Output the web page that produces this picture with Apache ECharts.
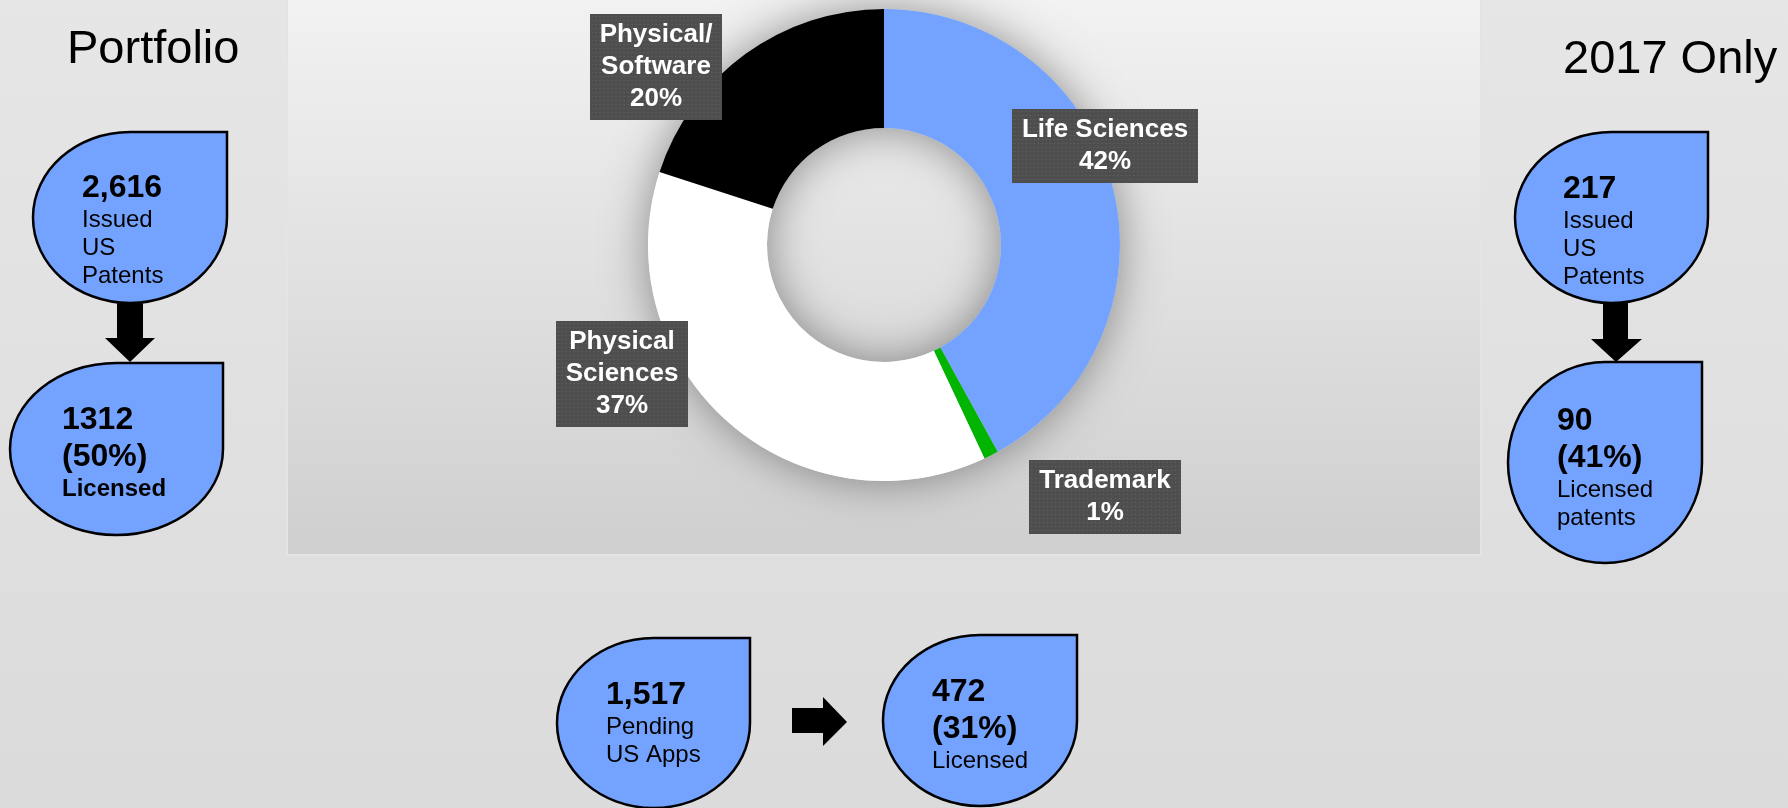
<!DOCTYPE html>
<html>
<head>
<meta charset="utf-8">
<title>Patent portfolio</title>
<script src="https://cdn.jsdelivr.net/npm/echarts@6/dist/echarts.min.js"></script>
<style>
  html, body { margin: 0; padding: 0; background: #dedede; }
  #chart { width: 1788px; height: 808px; }
</style>
</head>
<body>
<div id="chart"></div>
<script>
// donut: share of the portfolio by area (%)
const sectors = ['Life Sciences', 'Trademark', 'Physical Sciences', 'Physical/Software']
const sectorLabels = ['Life Sciences', 'Trademark', 'Physical\nSciences', 'Physical/\nSoftware']
const sectorShare = [42, 1, 37, 20]
const sectorColors = ['#73a3ff', '#00b400', '#ffffff', '#000000']

// side headings
const panelTitles = ['Portfolio', '2017 Only']

// teardrop callouts: left top, left bottom, right top, right bottom, bottom left, bottom right
const dropCounts = ['2,616', '1312\n(50%)', '217', '90\n(41%)', '1,517', '472\n(31%)']
const dropCaptions = ['Issued\nUS\nPatents', 'Licensed', 'Issued\nUS\nPatents', 'Licensed\npatents', 'Pending\nUS Apps', 'Licensed']
const captionBold = [false, true, false, false, false, false]

const FONT = '"Liberation Sans", Arial, sans-serif'

// layout (pixels)
const dropBoxes = [[33, 132, 194, 171], [10, 363, 213, 172], [1515, 132, 193, 171], [1508, 362, 194, 201], [557, 638, 193, 170], [883, 635, 194, 171]]
const dropText = [[82, 169.5], [62, 401.5], [1563, 170.5], [1557, 402.5], [606, 676.5], [932, 673.5]]
const titleAt = [[67, 50.5], [1563, 60.5]]
const labelAt = [[1105, 146], [1105, 497], [622, 374], [656, 67]]

// circle with its top-right quarter squared off
echarts.graphic.registerShape('teardrop', echarts.graphic.extendShape({
  shape: { x: 0, y: 0, width: 0, height: 0 },
  buildPath: function (ctx, s) {
    const k = 0.5523
    const rx = s.width / 2, ry = s.height / 2
    const cx = s.x + rx, cy = s.y + ry
    const r = s.x + s.width, b = s.y + s.height
    ctx.moveTo(cx, s.y)
    ctx.lineTo(r, s.y)
    ctx.lineTo(r, cy)
    ctx.bezierCurveTo(r, cy + k * ry, cx + k * rx, b, cx, b)
    ctx.bezierCurveTo(cx - k * rx, b, s.x, cy + k * ry, s.x, cy)
    ctx.bezierCurveTo(s.x, cy - k * ry, cx - k * rx, s.y, cx, s.y)
    ctx.closePath()
  }
}))

// dark dotted tile sized to a label box
function dottedBox(text) {
  const m = document.createElement('canvas').getContext('2d')
  m.font = 'bold 26px ' + FONT
  const lines = text.split('\n')
  const w = Math.ceil(Math.max(...lines.map(l => m.measureText(l).width))) + 20
  const h = lines.length * 32 + 10
  const c = document.createElement('canvas')
  c.width = w
  c.height = h
  const g = c.getContext('2d')
  g.fillStyle = '#4e4e4e'
  g.fillRect(0, 0, w, h)
  g.fillStyle = '#676767'
  for (let y = 2; y < h; y += 4) {
    for (let x = 2; x < w; x += 4) g.fillRect(x, y, 1, 1)
  }
  return c
}

function dropRich(i) {
  const n = dropCounts[i].split('\n').map(s => '{n|' + s + '}')
  const c = dropCaptions[i].split('\n').map(s => (captionBold[i] ? '{b|' : '{t|') + s + '}')
  return n.concat(c).join('\n')
}

const graphics = []

// chart panel
graphics.push({
  type: 'rect', z: 0, silent: true,
  shape: { x: 287, y: -2, width: 1194, height: 557 },
  style: {
    fill: new echarts.graphic.LinearGradient(0, 0, 0, 1, [
      { offset: 0, color: '#f2f2f2' },
      { offset: 1, color: '#cfcfcf' }
    ]),
    stroke: '#e4e4e4', lineWidth: 2
  }
})

panelTitles.forEach((t, i) => {
  graphics.push({
    type: 'text', z: 10, x: titleAt[i][0], y: titleAt[i][1],
    style: { text: t, fill: '#000', font: '47px ' + FONT, verticalAlign: 'middle' }
  })
})

dropBoxes.forEach((b, i) => {
  graphics.push({
    type: 'teardrop', z: 10, silent: true,
    shape: { x: b[0], y: b[1], width: b[2], height: b[3] },
    style: { fill: '#73a3ff', stroke: '#000', lineWidth: 2.5 }
  })
  graphics.push({
    type: 'text', z: 11, x: dropText[i][0], y: dropText[i][1],
    style: {
      text: dropRich(i), verticalAlign: 'top', fill: '#000',
      rich: {
        n: { fontFamily: FONT, fontSize: 32, fontWeight: 'bold', lineHeight: 37, fill: '#000' },
        t: { fontFamily: FONT, fontSize: 24, lineHeight: 28, fill: '#000' },
        b: { fontFamily: FONT, fontSize: 24, fontWeight: 'bold', lineHeight: 28, fill: '#000' }
      }
    }
  })
})

// arrows
const arrows = [
  [[117, 303], [143, 303], [143, 338], [155, 338], [130, 362], [105, 338], [117, 338]],
  [[1603, 303], [1628, 303], [1628, 339], [1642, 339], [1616, 362], [1591, 339], [1603, 339]],
  [[792, 708], [823, 708], [823, 697], [847, 722], [823, 746], [823, 733], [792, 733]]
]
arrows.forEach(pts => {
  graphics.push({ type: 'polygon', z: 10, silent: true, shape: { points: pts }, style: { fill: '#000' } })
})

const chart = echarts.init(document.getElementById('chart'))
chart.setOption({
  backgroundColor: new echarts.graphic.LinearGradient(0, 0, 0, 1, [
    { offset: 0, color: '#e6e6e6' },
    { offset: 1, color: '#dbdbdb' }
  ]),
  animation: false,
  graphic: graphics,
  series: [
    {
      // soft shadow under the ring
      type: 'pie', z: 1, silent: true,
      center: [884, 245], radius: [117, 236],
      label: { show: false }, labelLine: { show: false },
      emphasis: { disabled: true },
      data: [{ value: 1, itemStyle: { color: '#dddddd', shadowBlur: 45, shadowColor: 'rgba(0,0,0,0.4)' } }]
    },
    {
      type: 'pie', z: 3,
      center: [884, 245], radius: [117, 236],
      startAngle: 90, clockwise: true,
      avoidLabelOverlap: false,
      emphasis: { disabled: true },
      data: sectors.map((name, i) => ({
        name: name,
        value: sectorShare[i],
        itemStyle: { color: sectorColors[i] },
        label: { backgroundColor: { image: dottedBox(sectorLabels[i] + '\n' + sectorShare[i] + '%') } }
      })),
      label: {
        formatter: p => sectorLabels[p.dataIndex] + '\n' + Math.round(p.percent) + '%',
        color: '#fff', fontWeight: 'bold', fontSize: 26, lineHeight: 32, fontFamily: FONT,
        align: 'center',
        padding: [5, 10],
        shadowBlur: 6, shadowOffsetX: 4, shadowOffsetY: 4, shadowColor: 'rgba(0,0,0,0.45)'
      },
      labelLine: { show: false },
      labelLayout: p => ({ x: labelAt[p.dataIndex][0], y: labelAt[p.dataIndex][1], align: 'center', verticalAlign: 'middle' })
    }
  ]
})
</script>
</body>
</html>
